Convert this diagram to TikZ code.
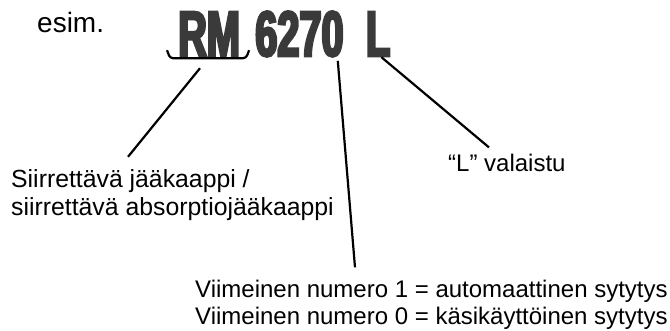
\documentclass[tikz,border=0pt]{standalone}
\usepackage{fontspec}
\setmainfont{Liberation Sans}
\newfontfamily\platefont{Liberation Sans}[UprightFont=* Bold,FakeStretch=0.62,FakeBold=4]
\usetikzlibrary{positioning,calc}
\definecolor{plategray}{HTML}{3A3A3A}
\tikzset{x=1pt,y=-1pt,label node/.style={inner sep=0pt,align=left,font=\fontsize{24}{27.5}\selectfont},plate node/.style={inner sep=0pt,text=plategray,font=\platefont\fontsize{64}{64}\selectfont},edge/.style={line width=2.2pt}}

\begin{document}
\begin{tikzpicture}
    \useasboundingbox (0,0) rectangle (670,331);
    \node[label node, font=\fontsize{28}{30}\selectfont, anchor=base west] (esim) at (37,33) {esim.};
    \node[plate node, anchor=base west] (rm) at (178,56) {RM};
    \node[plate node] (num) [base right=15pt of rm] {6270};
    \node[plate node] (ell) [base right=22pt of num] {L};
    \node[label node, font=\fontsize{24.8}{27.5}\selectfont, anchor=base west] (fridge) at (11,215.5) {Siirrettävä jääkaappi /\\siirrettävä absorptiojääkaappi};
    \node[label node, anchor=base west] (light) at (448,172) {“L” valaistu};
    \node[label node, anchor=base west] (ignition) at (195,324.5) {Viimeinen numero 1 = automaattinen sytytys\\Viimeinen numero 0 = käsikäyttöinen sytytys};
    % bracket under RM
    \draw[edge, rounded corners=3pt] ($(rm.south west)+(-11,-6)$) -- ($(rm.south west)+(-8,2)$) -- ($(rm.south east)+(6,2)$) -- ($(rm.south east)+(9,-6)$);
    \draw[edge] ($(rm.south west)+(22,12)$) -- ($(fridge.north west)+(117,-13)$);
    \draw[edge] ($(num.south east)+(-6,4)$) -- ($(ignition.north west)+(160,-12)$);
    \draw[edge] ($(ell.south east)+(-9,1)$) -- ($(light.north west)+(41,-7)$);
\end{tikzpicture}
\end{document}
